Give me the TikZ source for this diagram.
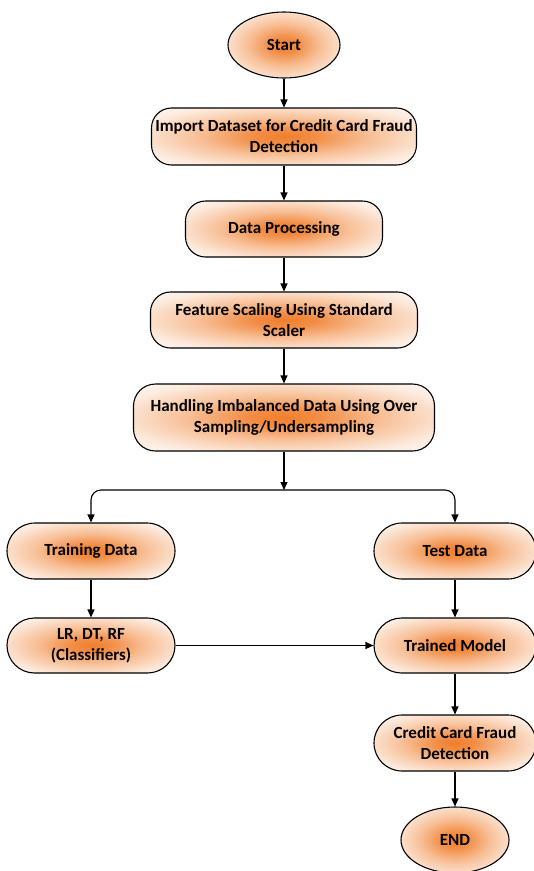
\documentclass[tikz,border=0pt]{standalone}
\usepackage{fontspec}
\setmainfont{Carlito}
\usetikzlibrary{shapes.geometric,arrows.meta}
\definecolor{glowc}{RGB}{240,126,44}
\pgfdeclareradialshading{glow}{\pgfpoint{0bp}{0bp}}{color(0bp)=(glowc); color(6bp)=(glowc!88!white); color(16bp)=(glowc!50!white); color(28bp)=(glowc!16!white); color(40bp)=(white); color(50bp)=(white)}
\tikzset{
  base/.style={draw=black, line width=1.1pt, shading=glow, font=\bfseries\fontsize{17}{21}\selectfont, align=center, inner sep=0pt},
  rbox/.style={base, rounded corners=#1},
  oval/.style={base, ellipse},
  arr/.style={line width=1.1pt, -{Triangle[length=8pt,width=7pt]}},
}
\begin{document}
\begin{tikzpicture}[x=1pt,y=-1pt]
\useasboundingbox (0,0) rectangle (534,871);
\node[oval, minimum width=112pt, minimum height=66pt] (start) at (284,45) {Start};
\node[rbox=20pt, minimum width=265pt, minimum height=57pt] (import) at (284,136.5) {Import Dataset for Credit Card Fraud\\Detection};
\node[rbox=20pt, minimum width=197pt, minimum height=56pt] (proc) at (284,229) {Data Processing};
\node[rbox=20pt, minimum width=267pt, minimum height=56pt] (scale) at (284,320) {Feature Scaling Using Standard\\Scaler};
\node[rbox=22pt, minimum width=301pt, minimum height=67pt] (imb) at (284,417.5) {Handling Imbalanced Data Using Over\\Sampling/Undersampling};
\coordinate (br) at (284,490);
\node[rbox=28pt, minimum width=168pt, minimum height=56pt] (train) at (91,551) {Training Data};
\node[rbox=28pt, minimum width=162pt, minimum height=56pt] (test) at (455,551) {Test Data};
\node[rbox=27.5pt, minimum width=168pt, minimum height=55pt] (clf) at (91,645.5) {LR, DT, RF\\(Classifiers)};
\node[rbox=27.5pt, minimum width=162pt, minimum height=55pt] (model) at (455,645.5) {Trained Model};
\node[rbox=28pt, minimum width=162pt, minimum height=56pt] (ccfd) at (455,743) {Credit Card Fraud\\Detection};
\node[oval, minimum width=108pt, minimum height=66pt] (end) at (455,840) {END};
\draw[arr] (start) -- (import);
\draw[arr] (import) -- (proc);
\draw[arr] (proc) -- (scale);
\draw[arr] (scale) -- (imb);
\draw[arr] (imb) -- (br);
\draw[arr, rounded corners=10pt] (br) -| (train);
\draw[arr, rounded corners=10pt] (br) -| (test);
\draw[arr] (train) -- (clf);
\draw[arr] (test) -- (model);
\draw[arr] (clf) -- (model);
\draw[arr] (model) -- (ccfd);
\draw[arr] (ccfd) -- (end);
\end{tikzpicture}
\end{document}
